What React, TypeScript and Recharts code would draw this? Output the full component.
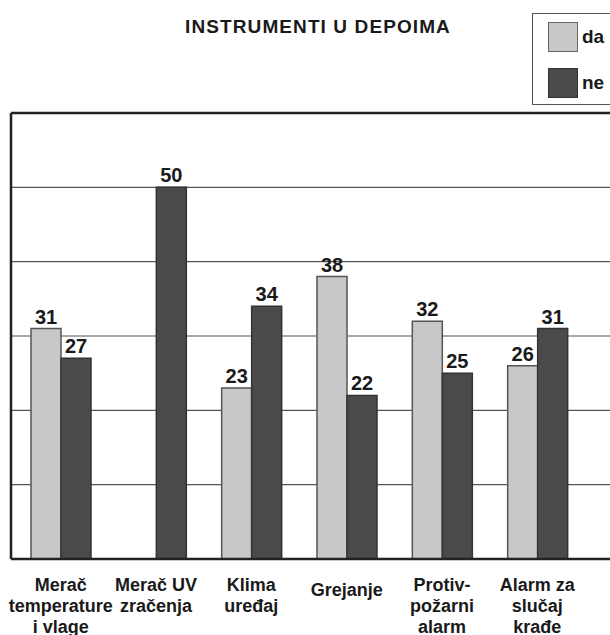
import React from "react";
import {
  Bar,
  BarChart,
  CartesianGrid,
  LabelList,
  Legend,
  ReferenceLine,
  XAxis,
  YAxis,
} from "recharts";

const categories = [
  "Merač\ntemperature\ni vlage",
  "Merač UV\nzračenja",
  "Klima\nuređaj",
  "Grejanje",
  "Protiv-\npožarni\nalarm",
  "Alarm za\nslučaj\nkrađe",
];
const daValues: (number | null)[] = [31, null, 23, 38, 32, 26];
const neValues: number[] = [27, 50, 34, 22, 25, 31];
const yTicks = [0, 10, 20, 30, 40, 50, 60];

const FONT = '"Liberation Sans", Arial, Helvetica, sans-serif';
const DA_FILL = "#c8c8c8";
const NE_FILL = "#4a4a4a";

const data = categories.map((name, i) => ({
  name,
  da: daValues[i],
  ne: neValues[i],
}));

function CategoryTick({ x, y, payload }: any) {
  const lines = String(payload.value).split("\n");
  // single-line labels sit a little lower, like in the original
  const first = lines.length === 1 ? 29 : 24;
  return (
    <text
      x={x}
      y={y}
      textAnchor="middle"
      fill="#1a1a1a"
      fontSize={18}
      fontWeight="bold"
      fontFamily={FONT}
    >
      {lines.map((line, i) => (
        <tspan key={i} x={x} dy={i === 0 ? first : 21}>
          {line}
        </tspan>
      ))}
    </text>
  );
}

function LegendBox({ payload }: any) {
  return (
    <div
      style={{
        border: "1.5px solid #555",
        width: 110,
        height: 92,
        boxSizing: "border-box",
        background: "#fff",
        paddingTop: 8,
        paddingLeft: 15,
      }}
    >
      {(payload || []).map((entry: any, i: number) => (
        <div
          key={entry.value}
          style={{
            display: "flex",
            alignItems: "center",
            marginTop: i === 0 ? 0 : 16,
          }}
        >
          <div
            style={{
              width: 30,
              height: 30,
              boxSizing: "border-box",
              background: entry.color,
              border: `1.5px solid ${i === 0 ? "#666" : "#333"}`,
            }}
          />
          <span
            style={{
              marginLeft: 4,
              fontSize: 19,
              fontWeight: "bold",
              fontFamily: FONT,
              color: "#1a1a1a",
            }}
          >
            {entry.value}
          </span>
        </div>
      ))}
    </div>
  );
}

export default function App() {
  return (
    <div
      style={{
        position: "absolute",
        left: 0,
        top: 0,
        width: 610,
        height: 635,
        overflow: "hidden",
        fontFamily: FONT,
        background: "#fff",
      }}
    >
      <div
        style={{
          position: "absolute",
          top: 17,
          left: 318,
          transform: "translateX(-50%)",
          fontSize: 19,
          lineHeight: 1,
          fontWeight: "bold",
          letterSpacing: 1.1,
          color: "#1a1a1a",
          whiteSpace: "nowrap",
        }}
      >
        INSTRUMENTI U DEPOIMA
      </div>
      <BarChart
        width={610}
        height={635}
        data={data}
        margin={{ top: 113, right: 0, bottom: 0, left: 10 }}
        barGap={0}
        barSize={30}
      >
        <CartesianGrid
          vertical={false}
          horizontalValues={yTicks}
          stroke="#555"
          strokeWidth={1.2}
        />
        <XAxis
          dataKey="name"
          interval={0}
          height={76}
          padding={{ left: 2, right: 25 }}
          tickLine={false}
          axisLine={{ stroke: "#222", strokeWidth: 2.5 }}
          tick={<CategoryTick />}
        />
        <YAxis
          width={1}
          domain={[0, 60]}
          ticks={yTicks}
          tick={() => <g />}
          tickLine={false}
          axisLine={{ stroke: "#222", strokeWidth: 2.5 }}
        />
        <ReferenceLine y={60} stroke="#222" strokeWidth={2.5} />
        <Legend
          layout="vertical"
          align="center"
          verticalAlign="middle"
          content={<LegendBox />}
          wrapperStyle={{ top: 13, left: 532, width: 110, height: 92 }}
        />
        <Bar
          dataKey="da"
          name="da"
          fill={DA_FILL}
          stroke="#555"
          strokeWidth={1.5}
          isAnimationActive={false}
        >
          <LabelList
            dataKey="da"
            position="top"
            offset={5}
            fill="#1a1a1a"
            fontSize={20}
            fontWeight="bold"
            fontFamily={FONT}
          />
        </Bar>
        <Bar
          dataKey="ne"
          name="ne"
          fill={NE_FILL}
          stroke="#333"
          strokeWidth={1.5}
          isAnimationActive={false}
        >
          <LabelList
            dataKey="ne"
            position="top"
            offset={5}
            fill="#1a1a1a"
            fontSize={20}
            fontWeight="bold"
            fontFamily={FONT}
          />
        </Bar>
      </BarChart>
    </div>
  );
}
